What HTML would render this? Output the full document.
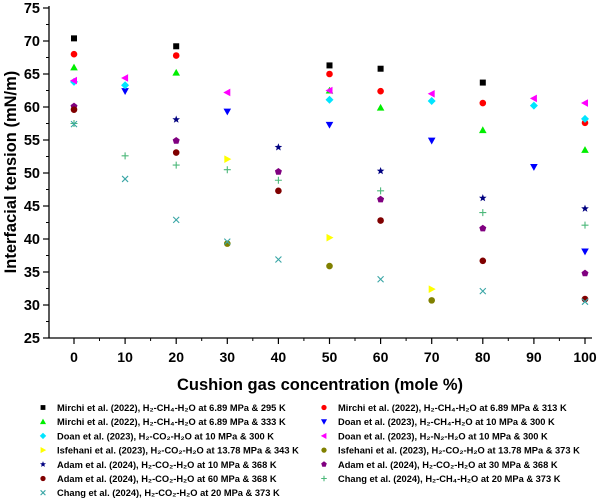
<!DOCTYPE html>
<html><head><meta charset="utf-8"><style>
body{margin:0;background:#fff;font-family:"Liberation Sans",Arial,sans-serif}
</style></head><body>
<svg id="chart" width="600" height="499" viewBox="0 0 600 499" xmlns="http://www.w3.org/2000/svg" font-family="Liberation Sans, Arial, sans-serif">
<g id="axes"></g><g id="marks"></g><g id="legend"></g>
</svg>
<script>
const xTicks=[0,10,20,30,40,50,60,70,80,90,100];
const yTicks=[25,30,35,40,45,50,55,60,65,70,75];
const seriesNames=["Mirchi et al. (2022), H₂-CH₄-H₂O at 6.89 MPa & 295 K","Mirchi et al. (2022), H₂-CH₄-H₂O at 6.89 MPa & 313 K","Mirchi et al. (2022), H₂-CH₄-H₂O at 6.89 MPa & 333 K","Doan et al. (2023), H₂-CH₄-H₂O at 10 MPa & 300 K","Doan et al. (2023), H₂-CO₂-H₂O at 10 MPa & 300 K","Doan et al. (2023), H₂-N₂-H₂O at 10 MPa & 300 K","Isfehani et al. (2023), H₂-CO₂-H₂O at 13.78 MPa & 343 K","Isfehani et al. (2023), H₂-CO₂-H₂O at 13.78 MPa & 373 K","Adam et al. (2024), H₂-CO₂-H₂O at 10 MPa & 368 K","Adam et al. (2024), H₂-CO₂-H₂O at 30 MPa & 368 K","Adam et al. (2024), H₂-CO₂-H₂O at 60 MPa & 368 K","Chang et al. (2024), H₂-CH₄-H₂O at 20 MPa & 373 K","Chang et al. (2024), H₂-CO₂-H₂O at 20 MPa & 373 K"];
const m295X=[0,20,50,60,80], m295Y=[70.4,69.2,66.3,65.8,63.7];
const m313X=[0,20,50,60,80,100], m313Y=[68.0,67.8,65.0,62.4,60.6,57.6];
const m333X=[0,20,50,60,80,100], m333Y=[66.0,65.2,62.5,59.9,56.5,53.5];
const dCH4X=[10,30,50,70,90,100], dCH4Y=[62.4,59.3,57.3,54.9,50.9,38.1];
const dCO2X=[0,10,50,70,90,100], dCO2Y=[63.8,63.3,61.1,60.9,60.2,58.2];
const dN2X=[0,10,30,50,70,90,100], dN2Y=[64.0,64.4,62.2,62.5,62.0,61.3,60.6];
const i343X=[30,50,70], i343Y=[52.1,40.2,32.4];
const i373X=[30,50,70], i373Y=[39.3,35.9,30.7];
const a10X=[20,40,60,80,100], a10Y=[58.1,53.9,50.3,46.2,44.6];
const a30X=[0,20,40,60,80,100], a30Y=[60.1,54.9,50.2,46.0,41.6,34.8];
const a60X=[0,20,40,60,80,100], a60Y=[59.6,53.1,47.3,42.8,36.7,30.9];
const cCH4X=[0,10,20,30,40,60,80,100], cCH4Y=[57.5,52.6,51.2,50.5,48.9,47.3,44.0,42.1];
const cCO2X=[0,10,20,30,40,60,80,100], cCO2Y=[57.4,49.1,42.9,39.6,36.9,33.9,32.1,30.5];

const NS="http://www.w3.org/2000/svg";
const xS=v=>74+v*5.11, yS=v=>338-(v-25)*6.6;
function mk(tag,attrs,parent){const e=document.createElementNS(NS,tag);for(const k in attrs)e.setAttribute(k,attrs[k]);parent.appendChild(e);return e;}
const axes=document.getElementById('axes');
let l=mk('line',{x1:49,y1:338,x2:592,y2:338,stroke:'#000','stroke-width':1.3},axes);


l=mk('line',{x1:49,y1:6,x2:49,y2:338,stroke:'#000','stroke-width':1.3},axes);


xTicks.forEach(t=>{const x=xS(t);
 mk('line',{x1:x,y1:338,x2:x,y2:344,stroke:'#000','stroke-width':1.2},axes);
 mk('line',{x1:x+25.5,y1:338,x2:x+25.5,y2:341,stroke:'#000','stroke-width':1},axes);
 const tx=mk('text',{x:x,y:362,'text-anchor':'middle','font-size':14,'font-weight':'bold'},axes);tx.textContent=t;
 
 
});
yTicks.forEach(t=>{const y=yS(t);
 mk('line',{x1:43,y1:y,x2:49,y2:y,stroke:'#000','stroke-width':1.2},axes);
 if(t<75)mk('line',{x1:46,y1:y-16.5,x2:49,y2:y-16.5,stroke:'#000','stroke-width':1},axes);
 const tx=mk('text',{x:40,y:y+5,'text-anchor':'end','font-size':14.5,'font-weight':'bold'},axes);tx.textContent=t;
 
 
});
let tt=mk('text',{x:320,y:390,'text-anchor':'middle','font-size':16.5,'font-weight':'bold'},axes);tt.textContent='Cushion gas concentration (mole %)';


tt=mk('text',{x:0,y:0,'text-anchor':'middle','font-size':16.5,'font-weight':'bold',transform:'translate(16,172) rotate(-90)'},axes);tt.textContent='Interfacial tension (mN/m)';



function marker(type,color,x,y,p,s){
 s=s||1;let e;
 switch(type){
 case 'sq':e=mk('rect',{x:x-3*s,y:y-3*s,width:6*s,height:6*s,fill:color},p);break;
 case 'ci':e=mk('circle',{cx:x,cy:y,r:3.3*s,fill:color},p);break;
 case 'tu':e=mk('polygon',{points:`${x},${y-3.8*s} ${x-3.8*s},${y+3*s} ${x+3.8*s},${y+3*s}`,fill:color},p);break;
 case 'td':e=mk('polygon',{points:`${x},${y+3.8*s} ${x-3.8*s},${y-3*s} ${x+3.8*s},${y-3*s}`,fill:color},p);break;
 case 'di':e=mk('polygon',{points:`${x},${y-4*s} ${x+4*s},${y} ${x},${y+4*s} ${x-4*s},${y}`,fill:color},p);break;
 case 'tl':e=mk('polygon',{points:`${x-4*s},${y} ${x+3*s},${y-3.8*s} ${x+3*s},${y+3.8*s}`,fill:color},p);break;
 case 'tr':e=mk('polygon',{points:`${x+4*s},${y} ${x-3*s},${y-3.8*s} ${x-3*s},${y+3.8*s}`,fill:color},p);break;
 case 'st':{let pts=[];for(let i=0;i<10;i++){const r=i%2?1.7*s:4*s,a=-Math.PI/2+i*Math.PI/5;pts.push((x+r*Math.cos(a)).toFixed(1)+','+(y+r*Math.sin(a)).toFixed(1));}e=mk('polygon',{points:pts.join(' '),fill:color},p);break;}
 case 'pe':{let pts=[];for(let i=0;i<5;i++){const a=-Math.PI/2+i*2*Math.PI/5;pts.push((x+3.7*s*Math.cos(a)).toFixed(1)+','+(y+3.7*s*Math.sin(a)).toFixed(1));}e=mk('polygon',{points:pts.join(' '),fill:color},p);break;}
 case 'pl':e=mk('path',{d:`M${x-3.5*s},${y}H${x+3.5*s}M${x},${y-3.5*s}V${y+3.5*s}`,stroke:color,'stroke-width':1.1,fill:'none'},p);break;
 case 'xx':e=mk('path',{d:`M${x-3*s},${y-3*s}L${x+3*s},${y+3*s}M${x+3*s},${y-3*s}L${x-3*s},${y+3*s}`,stroke:color,'stroke-width':1.1,fill:'none'},p);break;
 }
 return e;
}
const series=[
 [m295X,m295Y,'sq','#000000'],[m313X,m313Y,'ci','#ff0000'],[m333X,m333Y,'tu','#00ee00'],
 [dCH4X,dCH4Y,'td','#0000ff'],[dCO2X,dCO2Y,'di','#00e5ff'],[dN2X,dN2Y,'tl','#ff00ff'],
 [i343X,i343Y,'tr','#ffff00'],[i373X,i373Y,'ci','#808000'],[a10X,a10Y,'st','#000080'],
 [a30X,a30Y,'pe','#800080'],[a60X,a60Y,'ci','#800000'],[cCH4X,cCH4Y,'pl','#4cb87a'],[cCO2X,cCO2Y,'xx','#3aa6a6']];
const marks=document.getElementById('marks');
series.forEach((s,si)=>{
 const g=mk('g',{},marks);
 
 
 s[0].forEach((xv,i)=>{
  const e=marker(s[2],s[3],xS(xv),yS(s[1][i]),g);
  
  
 });
});
const legOrder=[0,1,2,3,4,5,6,7,8,9,10,11,12];
const leg=document.getElementById('legend');
legOrder.forEach((si,i)=>{
 const col=i%2, row=Math.floor(i/2);
 const x=col?324:43, y=407.5+row*14.2;
 const g=mk('g',{},leg);
 
 
 marker(series[si][2],series[si][3],x,y,g,0.8);
 const t=mk('text',{x:x+14,y:y+3.5,'font-size':9.3,'font-weight':'bold'},g);
 t.textContent=seriesNames[si];
});
</script>
</body></html>
